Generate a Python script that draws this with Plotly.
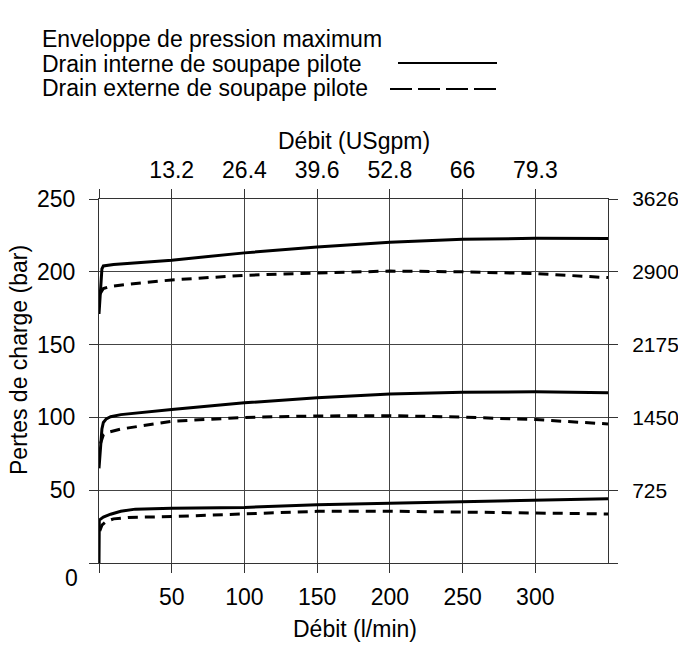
import plotly.graph_objects as go

# ---------------- data ----------------
# Internal pilot drain (solid)
int_hi_x = [0, 1, 2, 3, 10, 50, 100, 150, 200, 250, 300, 350]
int_hi_y = [171, 188, 202, 204, 205, 208, 213, 217, 220.3, 222.3, 223, 222.8]
int_mid_x = [0, 1, 2, 3, 5, 8, 15, 50, 100, 150, 200, 250, 300, 350]
int_mid_y = [65, 80, 92, 96.5, 99, 100.5, 101.9, 105.4, 110, 113.5, 116, 117.3, 117.6, 117]
int_lo_x = [0, 0.2, 3, 8, 15, 25, 50, 100, 150, 200, 250, 300, 350]
int_lo_y = [0, 29.5, 31.5, 33.5, 35.5, 37, 37.6, 38.2, 40, 41, 42.2, 43.4, 44.1]

# External pilot drain (dashed)
ext_hi_x = [0.8, 3, 8, 20, 50, 100, 150, 200, 250, 300, 350]
ext_hi_y = [185, 188.5, 190, 191.5, 194.4, 197.6, 199.2, 200.5, 200, 198.8, 196]
ext_mid_x = [1, 3, 5, 15, 50, 100, 150, 200, 250, 300, 350]
ext_mid_y = [82, 88, 89.5, 92, 97.3, 100, 101, 101.2, 100.2, 98.5, 95.5]
ext_lo_x = [0.5, 2, 5, 10, 20, 50, 100, 150, 200, 250, 300, 350]
ext_lo_y = [22, 26, 28.5, 30.3, 31.3, 31.9, 33.7, 35.5, 35.6, 35, 34.6, 33.7]

x_tickvals = [0, 50, 100, 150, 200, 250, 300]
x_ticktext = ["", "50", "100", "150", "200", "250", "300"]
x_top_ticktext = ["", "13.2", "26.4", "39.6", "52.8", "66", "79.3"]
y_tickvals = [0, 50, 100, 150, 200, 250]
y_ticktext = ["", "50", "100", "150", "200", "250"]
y_right_ticktext = ["", "725", "1450", "2175", "2900", "3626"]

legend_title = "Enveloppe de pression maximum"
legend_int = "Drain interne de soupape pilote"
legend_ext = "Drain externe de soupape pilote"

# ---------------- layout geometry ----------------
W, H = 678, 645
ML, MR, MT, MB = 99, 70, 199, 82
PW, PH = W - ML - MR, H - MT - MB
FONT = "Liberation Sans, Arial, Helvetica, sans-serif"
FS = 23


def px(xp):
    return (xp - ML) / PW


def py(yp):
    return (H - MB - yp) / PH


fig = go.Figure()

solid = dict(color="black", width=3)
dashed = dict(color="black", width=3, dash="10px,7px")

for xs, ys in [(int_hi_x, int_hi_y), (int_mid_x, int_mid_y), (int_lo_x, int_lo_y)]:
    fig.add_trace(go.Scatter(x=xs, y=ys, mode="lines", line=solid,
                             showlegend=False, hoverinfo="skip"))
for xs, ys in [(ext_hi_x, ext_hi_y), (ext_mid_x, ext_mid_y), (ext_lo_x, ext_lo_y)]:
    fig.add_trace(go.Scatter(x=xs, y=ys, mode="lines", line=dashed,
                             xaxis="x2", yaxis="y2",
                             showlegend=False, hoverinfo="skip"))

axcol = "#333333"
common = dict(ticks="outside", ticklen=9, tickwidth=1, tickcolor=axcol,
              showline=True, linecolor=axcol, linewidth=1, zeroline=False,
              automargin=False)

fig.update_layout(
    width=W, height=H,
    margin=dict(l=ML, r=MR, t=MT, b=MB, pad=0, autoexpand=False),
    paper_bgcolor="white", plot_bgcolor="white",
    font=dict(family=FONT, size=FS, color="black"),
    showlegend=False,
    xaxis=dict(range=[0, 350], tickmode="array", tickvals=x_tickvals,
               ticktext=x_ticktext, showgrid=True, gridcolor="#444444",
               gridwidth=1, side="bottom", ticklabelstandoff=4,
               tickfont=dict(family=FONT, size=FS, color="black"), **common),
    xaxis2=dict(range=[0, 350], tickmode="array", tickvals=x_tickvals,
                ticktext=x_top_ticktext, showgrid=False, overlaying="x",
                side="top", anchor="y", ticklabelstandoff=2,
                tickfont=dict(family=FONT, size=FS, color="black"), **common),
    yaxis=dict(range=[0, 250], tickmode="array", tickvals=y_tickvals,
               ticktext=y_ticktext, showgrid=True, gridcolor="#444444",
               gridwidth=1, side="left", ticklabelstandoff=9,
               tickfont=dict(family=FONT, size=FS, color="black"), **common),
    yaxis2=dict(range=[0, 250], tickmode="array", tickvals=y_tickvals,
                ticktext=y_right_ticktext, showgrid=False, overlaying="y",
                side="right", anchor="x", ticklabelstandoff=10,
                tickfont=dict(family=FONT, size=21, color="black"), **common),
)

ann = []
ann.append(dict(text="Débit (l/min)", x=px(355), y=py(629), xref="paper",
                yref="paper", xanchor="center", yanchor="middle",
                showarrow=False, font=dict(size=FS)))
ann.append(dict(text="Débit (USgpm)", x=px(354), y=py(141), xref="paper",
                yref="paper", xanchor="center", yanchor="middle",
                showarrow=False, font=dict(size=FS)))
ann.append(dict(text="Pertes de charge (bar)", x=px(19), y=py(360),
                xref="paper", yref="paper", xanchor="center",
                yanchor="middle", textangle=-90, showarrow=False,
                font=dict(size=FS)))
ann.append(dict(text="0", x=px(80), y=py(578), xref="paper", yref="paper",
                xanchor="right", yanchor="middle", showarrow=False,
                font=dict(size=FS)))
# legend texts
for t, yy in [(legend_title, 39), (legend_int, 63.5), (legend_ext, 88)]:
    ann.append(dict(text=t, x=px(40), y=py(yy), xref="paper", yref="paper",
                    xanchor="left", yanchor="middle", showarrow=False,
                    font=dict(size=FS)))
fig.update_layout(annotations=ann)

fig.add_shape(type="line", xref="paper", yref="paper",
              x0=px(398), x1=px(497), y0=py(63), y1=py(63),
              line=dict(color="black", width=2))
fig.add_shape(type="line", xref="paper", yref="paper",
              x0=px(390), x1=px(497), y0=py(89), y1=py(89),
              line=dict(color="black", width=2, dash="22px,6px"))

fig.write_html("out.html")
